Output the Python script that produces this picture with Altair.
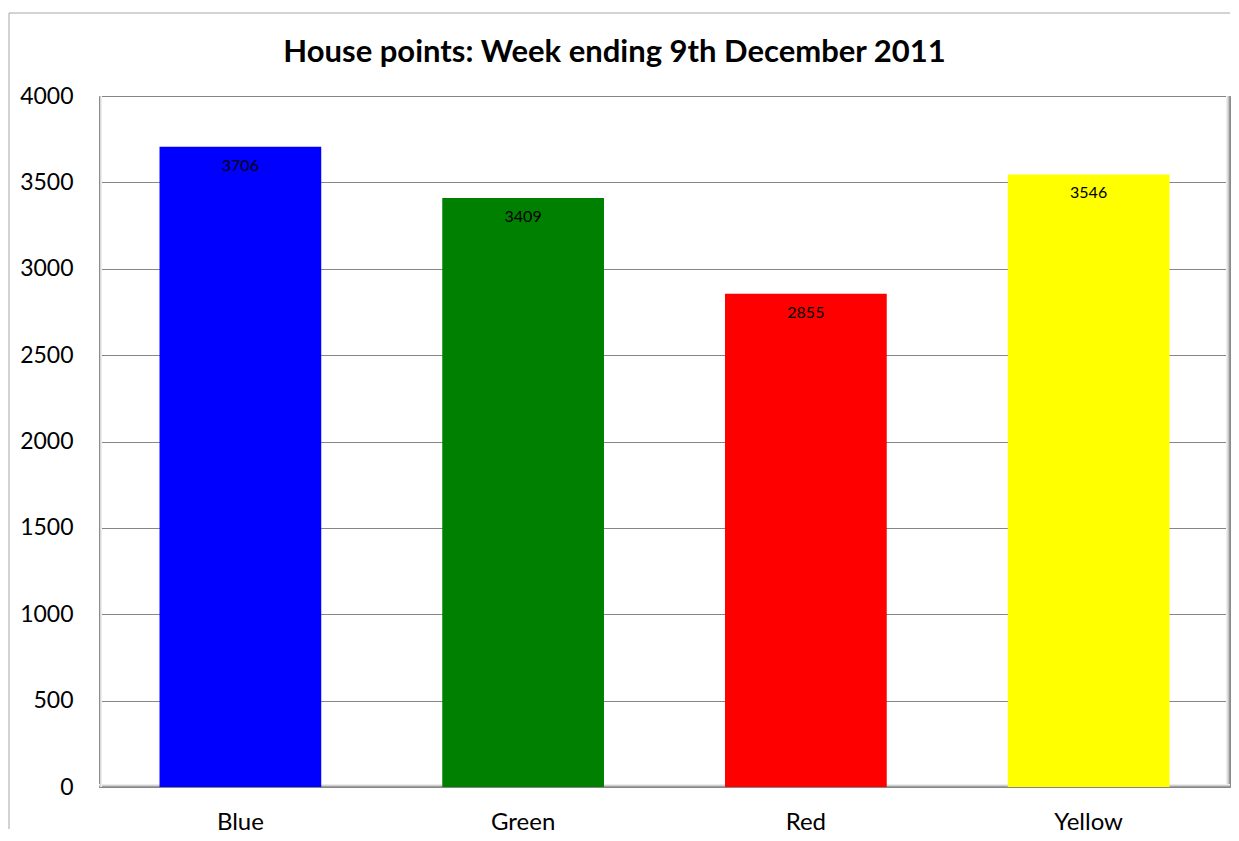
import altair as alt
import pandas as pd

houses = ["Blue", "Green", "Red", "Yellow"]
points = [3706, 3409, 2855, 3546]
colors = ["#0000FF", "#008000", "#FF0000", "#FFFF00"]
y_ticks = [0, 500, 1000, 1500, 2000, 2500, 3000, 3500, 4000]
title_text = "House points: Week ending 9th December 2011"

W, H = 1131, 691
FONT = "Lato"

df = pd.DataFrame({"house": houses, "points": points})

base = alt.Chart(df).encode(
    x=alt.X("house:N", sort=houses,
            scale=alt.Scale(paddingInner=0.428, paddingOuter=0.214),
            axis=alt.Axis(title=None, labelAngle=0, ticks=False, domain=False,
                          labelFont=FONT, labelFontSize=24, labelColor="black",
                          labelPadding=23)),
    y=alt.Y("points:Q", scale=alt.Scale(domain=[0, 4000], nice=False),
            axis=alt.Axis(title=None, values=y_ticks, format="d", ticks=False, domain=False,
                          labelFont=FONT, labelFontSize=23, labelColor="black",
                          labelPadding=26, minExtent=91, maxExtent=91,
                          gridColor="#868686", gridWidth=1, gridOpacity=1)),
)

bars = base.mark_bar().encode(
    color=alt.Color("house:N", scale=alt.Scale(domain=houses, range=colors), legend=None)
)

labels = base.mark_text(baseline="middle", dy=19, font=FONT, fontSize=16, color="black").encode(
    text=alt.Text("points:Q", format="d")
)

one = pd.DataFrame({"a": [0]})
deco = []
# outer chart frame (left and top edges)
deco.append(alt.Chart(one).mark_rule(color="#a6a6a6", strokeWidth=1).encode(
    x=alt.value(-90), y=alt.value(-83), y2=alt.value(733)))
deco.append(alt.Chart(one).mark_rule(color="#a6a6a6", strokeWidth=1).encode(
    x=alt.value(-90), x2=alt.value(W), y=alt.value(-83)))
# plot-area bevel: right shadow
for off, col in [(-1, "#9a9a9a"), (-2, "#c4c4c4"), (-3, "#dedede"), (-4, "#efefef")]:
    deco.append(alt.Chart(one).mark_rule(color=col, strokeWidth=1).encode(
        x=alt.value(W + off + 0.5), y=alt.value(0), y2=alt.value(H)))
# bottom bevel
for off, col in [(-1, "#a0a0a0"), (-2, "#d0d0d0"), (-3, "#ececec")]:
    deco.append(alt.Chart(one).mark_rule(color=col, strokeWidth=1).encode(
        x=alt.value(0), x2=alt.value(W), y=alt.value(H + off + 0.5)))
# left bevel
for off, col in [(1, "#d8d8d8"), (2, "#ececec")]:
    deco.append(alt.Chart(one).mark_rule(color=col, strokeWidth=1).encode(
        x=alt.value(off + 0.5), y=alt.value(0), y2=alt.value(H)))

title = alt.Chart(one).mark_text(
    text=title_text, font=FONT, fontSize=31, fontWeight="bold", color="black",
    align="center", baseline="alphabetic"
).encode(x=alt.value(515.5), y=alt.value(-34))

chart = alt.layer(*deco, bars, labels, title).properties(
    width=W, height=H,
    padding={"left": 0, "top": 4, "right": 0, "bottom": 0},
).configure_view(stroke="#8c8c8c", strokeWidth=1)

chart.save("out.html", embed_options={"renderer": "svg", "actions": False})
